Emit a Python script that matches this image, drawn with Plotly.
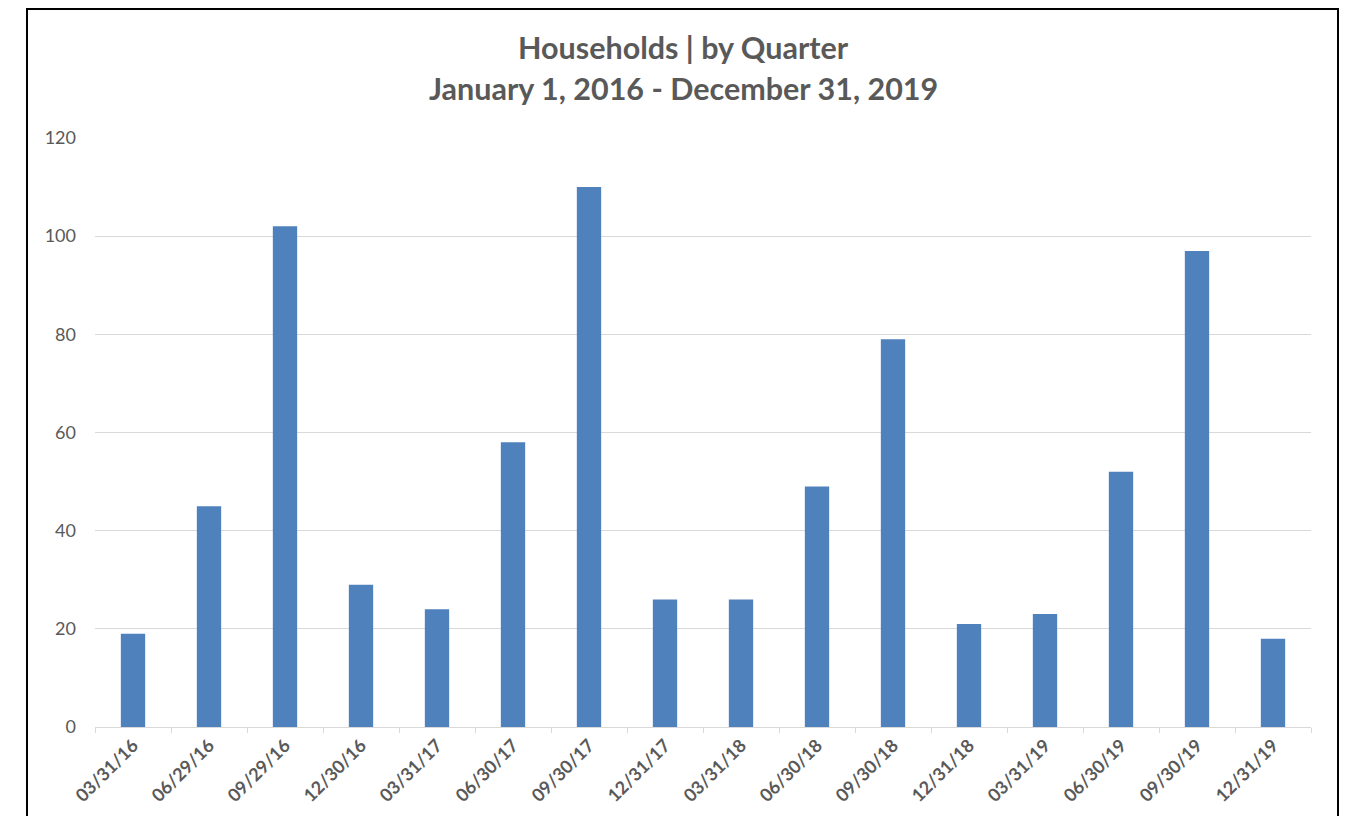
import plotly.graph_objects as go

quarters = ["03/31/16", "06/29/16", "09/29/16", "12/30/16", "03/31/17", "06/30/17",
            "09/30/17", "12/31/17", "03/31/18", "06/30/18", "09/30/18", "12/31/18",
            "03/31/19", "06/30/19", "09/30/19", "12/31/19"]
households = [19, 45, 102, 29, 24, 58, 110, 26, 26, 49, 79, 21, 23, 52, 97, 18]
y_ticks = [0, 20, 40, 60, 80, 100, 120]

W, H = 1347, 816
OFF = 8  # page body margin
L, R, T, B = 95 - OFF, 36 + OFF, 138 - OFF, 89 + OFF
pw = W - L - R
ph = H - T - B

def px(x):
    # x in screenshot pixels
    return (x - OFF - L) / pw

def py(y):
    return (H - B - (y - OFF)) / ph

fig = go.Figure(go.Bar(x=quarters, y=households, marker=dict(color="#4F81BD", line=dict(width=0)),
                       width=0.32))

font = "Lato, Open Sans, sans-serif"
fig.update_layout(
    width=W, height=H,
    margin=dict(l=L, r=R, t=T, b=B, autoexpand=False),
    paper_bgcolor="white", plot_bgcolor="white",
    showlegend=False,
    font=dict(family=font, color="#595959", size=16),
    xaxis=dict(type="category", tickangle=-45, showgrid=False, showline=True, linecolor="#d9d9d9",
               linewidth=1, ticks="outside", tickson="boundaries", ticklen=5, tickcolor="#d9d9d9",
               tickfont=dict(size=18, family=font, color="#595959", weight="bold")),
    yaxis=dict(range=[0, 120], tickvals=y_ticks, showgrid=True, gridcolor="#d9d9d9", gridwidth=1,
               zeroline=False, showline=False, ticks="", ticklabelstandoff=18,
               tickfont=dict(size=18, family=font, color="#595959")),
    annotations=[
        dict(text="<b>Households | by Quarter</b>", x=px(683), y=py(47), xref="paper", yref="paper",
             showarrow=False, font=dict(size=30.5, family=font, color="#595959"), xanchor="center", yanchor="middle"),
        dict(text="<b>January 1, 2016 - December 31, 2019</b>", x=px(683), y=py(88), xref="paper", yref="paper",
             showarrow=False, font=dict(size=30.5, family=font, color="#595959"), xanchor="center", yanchor="middle"),
    ],
    shapes=[
        dict(type="rect", xref="paper", yref="paper", x0=px(27), x1=px(1338), y0=py(9), y1=py(840),
             line=dict(color="black", width=2), fillcolor="rgba(0,0,0,0)", layer="above"),
    ],
)

fig.write_html("out.html")
